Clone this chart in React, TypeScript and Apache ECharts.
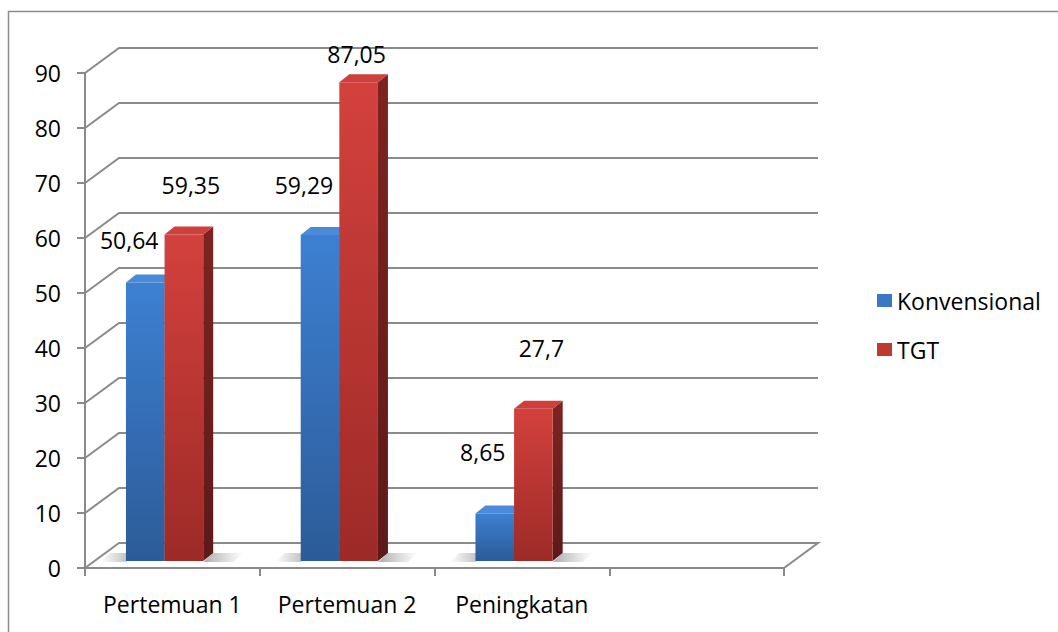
import React, { useEffect, useRef } from "react";
import * as echarts from "echarts";

const categories = ["Pertemuan 1", "Pertemuan 2", "Peningkatan", ""];
const konvensional = [50.64, 59.29, 8.65];
const tgt = [59.35, 87.05, 27.7];
const yTicks = [0, 10, 20, 30, 40, 50, 60, 70, 80, 90];
const seriesNames = ["Konvensional", "TGT"];

// label placement offsets (px) relative to each bar's top centre
const labelOffsets = [
  [[-16, -42], [-16, -50], [-12, -61]],
  [[7, -50], [-2, -28], [8, -61]],
];

const FONT = "'Open Sans', 'Noto Sans', sans-serif";
const FS = 23;
const GRID_DX = 34;
const GRID_DY = -25;
const BAR_DX = 9.5;
const BAR_DY = -7;
const SIDE_DX = 10;
const SIDE_DY = -8;
const LINE = "#8a8a8a";

const palettes = [
  { front: ["#3d80d2", "#2c5b98"], top: "#4a8ad8", side: ["#24497a", "#1c3a62"], legend: "#3a77c4" },
  { front: ["#d3413d", "#9d2a27"], top: "#cf3f3b", side: ["#7d2422", "#5c1a18"], legend: "#c0392f" },
];

const fmt = (v: number) => String(v).replace(".", ",");

function barSeries(idx: number, values: number[]) {
  const pal = palettes[idx];
  return {
    type: "custom",
    name: seriesNames[idx],
    itemStyle: { color: pal.legend },
    data: values.map((v, i) => [i, v]),
    z: 5 + idx,
    renderItem: (params: any, api: any) => {
      const ci = api.value(0);
      const v = api.value(1);
      const bw = api.size([1, 0])[0];
      const c0 = api.coord([ci, 0]);
      const ct = api.coord([ci, v]);
      const w = bw * 0.221;
      const left = c0[0] - bw / 2 + bw * 0.18 + idx * w + BAR_DX;
      const bottom = c0[1] + BAR_DY;
      const top = ct[1] + BAR_DY;
      const right = left + w;
      const off = labelOffsets[idx][params.dataIndex];
      const children: any[] = [];
      // soft floor shadow
      if (idx === 0) {
        children.push({
          type: "polygon",
          shape: {
            points: [
              [left - 26, bottom + 1],
              [left, bottom + 1],
              [left + SIDE_DX, bottom + SIDE_DY],
              [left - 26 + SIDE_DX, bottom + SIDE_DY],
            ],
          },
          style: {
            fill: new echarts.graphic.LinearGradient(0, 0, 1, 0, [
              { offset: 0, color: "rgba(90,90,90,0)" },
              { offset: 1, color: "rgba(70,70,70,0.45)" },
            ]),
          },
        });
      } else {
        children.push({
          type: "polygon",
          shape: {
            points: [
              [right, bottom + 1],
              [right + 30, bottom + 1],
              [right + 30 + SIDE_DX, bottom + SIDE_DY],
              [right + SIDE_DX, bottom + SIDE_DY],
            ],
          },
          style: {
            fill: new echarts.graphic.LinearGradient(0, 0, 1, 0, [
              { offset: 0, color: "rgba(70,70,70,0.45)" },
              { offset: 1, color: "rgba(90,90,90,0)" },
            ]),
          },
        });
      }
      children.push({
        type: "polygon",
        shape: {
          points: [
            [right, top],
            [right + SIDE_DX, top + SIDE_DY],
            [right + SIDE_DX, bottom + SIDE_DY],
            [right, bottom],
          ],
        },
        style: {
          fill: new echarts.graphic.LinearGradient(0, 0, 0, 1, [
            { offset: 0, color: pal.side[0] },
            { offset: 1, color: pal.side[1] },
          ]),
        },
      });
      children.push({
        type: "polygon",
        shape: {
          points: [
            [left, top],
            [right, top],
            [right + SIDE_DX, top + SIDE_DY],
            [left + SIDE_DX, top + SIDE_DY],
          ],
        },
        style: { fill: pal.top },
      });
      children.push({
        type: "rect",
        shape: { x: left, y: top, width: w, height: bottom - top },
        style: {
          fill: new echarts.graphic.LinearGradient(0, 0, 0, 1, [
            { offset: 0, color: pal.front[0] },
            { offset: 1, color: pal.front[1] },
          ]),
        },
      });
      children.push({
        type: "text",
        z2: 10,
        style: {
          text: fmt(v),
          x: left + w / 2 + off[0],
          y: top + off[1],
          align: "center",
          verticalAlign: "middle",
          fill: "#000",
          font: `${FS}px ${FONT}`,
        },
      });
      return { type: "group", children };
    },
  };
}

export default function App() {
  const ref = useRef<HTMLDivElement>(null);
  useEffect(() => {
    const chart = echarts.init(ref.current!, undefined, { renderer: "svg" });
    chart.setOption({
      animation: false,
      backgroundColor: "#ffffff",
      textStyle: { fontFamily: FONT },
      graphic: [
        {
          type: "rect",
          shape: { x: 8.5, y: 11.5, width: 1200, height: 800 },
          style: { fill: "none", stroke: "#8c8c8c", lineWidth: 1.5 },
          z: 0,
        },
      ],
      grid: { left: 85, right: 274, top: 73, bottom: 64 },
      legend: {
        orient: "vertical",
        left: 872,
        top: 284,
        itemWidth: 15,
        itemHeight: 13,
        itemGap: 26,
        icon: "rect",
        textStyle: { fontSize: FS, color: "#000", fontFamily: FONT },
        data: seriesNames,
      },
      xAxis: {
        type: "category",
        data: categories,
        boundaryGap: true,
        axisLine: { lineStyle: { color: LINE, width: 2 } },
        axisTick: { show: true, length: 8, interval: 0, lineStyle: { color: LINE, width: 2 } },
        axisLabel: { interval: 0, margin: 24, fontSize: FS, color: "#000", fontFamily: FONT },
        splitLine: { show: false },
      },
      yAxis: {
        type: "value",
        min: 0,
        max: 90,
        interval: 10,
        axisLine: { show: true, lineStyle: { color: LINE, width: 2 } },
        axisTick: { show: true, length: 8, lineStyle: { color: LINE, width: 2 } },
        axisLabel: { margin: 24, fontSize: FS, color: "#000", fontFamily: FONT },
        splitLine: { show: false },
      },
      series: [
        {
          type: "custom",
          name: "gridlines",
          silent: true,
          z: 1,
          data: yTicks.map((t) => [0, t]),
          renderItem: (params: any, api: any) => {
            const cs = params.coordSys;
            const t = api.value(1);
            const y = api.coord([0, t])[1];
            const x0 = cs.x;
            const x1 = cs.x + cs.width;
            const pts =
              t === 0
                ? [
                    [x0, y],
                    [x0 + GRID_DX, y + GRID_DY],
                    [x1 + GRID_DX, y + GRID_DY],
                    [x1, y],
                  ]
                : [
                    [x0, y],
                    [x0 + GRID_DX, y + GRID_DY],
                    [x1 + GRID_DX, y + GRID_DY],
                  ];
            return {
              type: "polyline",
              shape: { points: pts },
              style: { stroke: LINE, lineWidth: 2, fill: "none" },
            };
          },
        },
        barSeries(0, konvensional),
        barSeries(1, tgt),
      ],
    });
    return () => chart.dispose();
  }, []);
  return (
    <div
      ref={ref}
      style={{ position: "fixed", left: 0, top: 0, width: 1058, height: 632, background: "#fff" }}
    />
  );
}
